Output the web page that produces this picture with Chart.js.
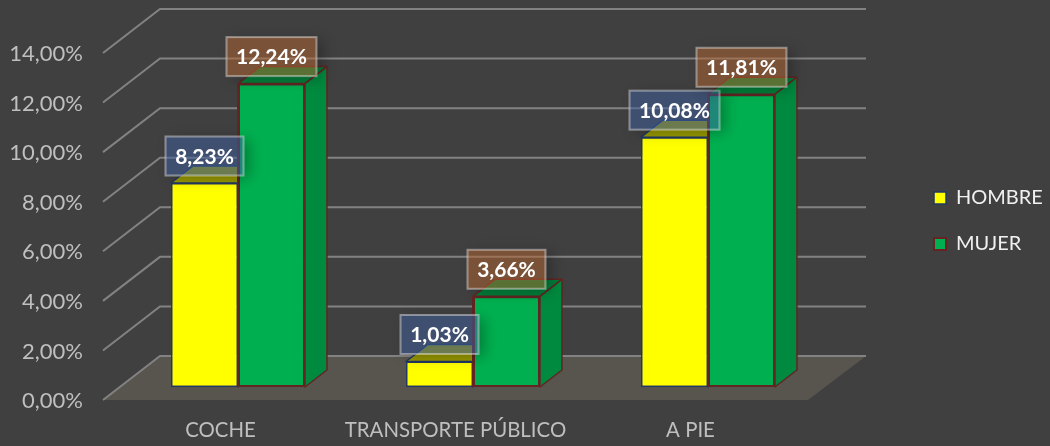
<!DOCTYPE html>
<html>
<head>
<meta charset="utf-8">
<style>
html,body{margin:0;padding:0;background:#404040;}
canvas{display:block;}
</style>
<script src="https://cdn.jsdelivr.net/npm/chart.js@4"></script>
</head>
<body>
<canvas id="c" width="1050" height="446"></canvas>
<script>
const categories = ['COCHE', 'TRANSPORTE PÚBLICO', 'A PIE'];
const hombre = [8.23, 1.03, 10.08];
const mujer = [12.24, 3.66, 11.81];
const FONT = 'Lato, Carlito, Calibri, sans-serif';
const fmt = v => v.toFixed(2).replace('.', ',') + '%';

const wallD = {x: 57, y: -44};
const barShift = {x: 17.5, y: -13};
const barD = {x: 22, y: -17};

const faceStyles = [
  {top: '#999900', side: '#999900', line: '#1f3864', box: 'rgba(62,94,158,0.5)'},
  {top: '#007f3a', side: '#008a3f', line: '#632523', box: 'rgba(180,100,48,0.5)'}
];

function poly(ctx, pts, fill, stroke, lw) {
  ctx.beginPath();
  pts.forEach((p, i) => i ? ctx.lineTo(p[0], p[1]) : ctx.moveTo(p[0], p[1]));
  ctx.closePath();
  if (fill) { ctx.fillStyle = fill; ctx.fill(); }
  if (stroke) { ctx.strokeStyle = stroke; ctx.lineWidth = lw; ctx.lineJoin = 'round'; ctx.stroke(); }
}

const threeD = {
  id: 'threeD',
  beforeUpdate(chart) {
    const lg = chart.legend;
    if (lg && !lg._wrapped) {
      const f = lg.fit;
      lg.fit = function () { f.call(this); this.width = 242; };
      lg._wrapped = true;
    }
  },
  afterLayout(chart) {
    chart.legend.left = 908;
    chart.legend.top = -4;
  },
  beforeDatasetsDraw(chart) {
    const {ctx, chartArea: a, scales: {y}} = chart;
    const y0 = y.getPixelForValue(0);
    poly(ctx, [[a.left, y0], [a.left + wallD.x, y0 + wallD.y], [a.right + wallD.x + 1, y0 + wallD.y], [a.right, y0]], '#58554e');
    ctx.save();
    ctx.strokeStyle = '#828282';
    ctx.lineWidth = 2;
    y.ticks.forEach(t => {
      const py = y.getPixelForValue(t.value);
      ctx.beginPath();
      ctx.moveTo(a.left, py);
      ctx.lineTo(a.left + wallD.x, py + wallD.y);
      ctx.lineTo(a.right + wallD.x + 1, py + wallD.y);
      ctx.stroke();
    });
    ctx.restore();
    ctx.save();
    ctx.translate(barShift.x, barShift.y);
    chart.data.datasets.forEach((ds, i) => {
      const st = faceStyles[i];
      chart.getDatasetMeta(i).data.forEach(el => {
        const l = el.x - el.width / 2, r = el.x + el.width / 2, t = el.y, b = el.base;
        poly(ctx, [[l, t], [l + barD.x, t + barD.y], [r + barD.x, t + barD.y], [r, t]], st.top, st.line, 1.5);
        poly(ctx, [[r, t], [r + barD.x, t + barD.y], [r + barD.x, b + barD.y], [r, b]], st.side, st.line, 1.5);
      });
    });
  },
  afterDatasetsDraw(chart) {
    const {ctx} = chart;
    // seam between the two bars keeps the second series' outline
    chart.getDatasetMeta(1).data.forEach(el => {
      const l = el.x - el.width / 2;
      ctx.strokeStyle = faceStyles[1].line;
      ctx.lineWidth = 2;
      ctx.beginPath();
      ctx.moveTo(l, el.y);
      ctx.lineTo(l, el.base);
      ctx.stroke();
    });
    ctx.restore();
    ctx.save();
    chart.data.datasets.forEach((ds, i) => {
      const st = faceStyles[i];
      chart.getDatasetMeta(i).data.forEach((el, j) => {
        const cx = el.x + barShift.x, cy = el.y + barShift.y - 27;
        const txt = fmt(ds.data[j]);
        const w = txt.length === 6 ? 90 : 78, h = 39;
        // soft shadow outside the box only, so the box itself stays see-through
        ctx.save();
        ctx.beginPath();
        ctx.rect(0, 0, chart.width, chart.height);
        ctx.rect(cx - w / 2, cy - h / 2, w, h);
        ctx.clip('evenodd');
        ctx.shadowColor = 'rgba(0,0,0,0.28)';
        ctx.shadowBlur = 14;
        ctx.shadowOffsetX = 6;
        ctx.shadowOffsetY = 3;
        ctx.fillStyle = '#000';
        ctx.fillRect(cx - w / 2, cy - h / 2, w, h);
        ctx.restore();
        ctx.fillStyle = st.box;
        ctx.fillRect(cx - w / 2, cy - h / 2, w, h);
        ctx.strokeStyle = 'rgba(255,255,255,0.42)';
        ctx.lineWidth = 2;
        ctx.strokeRect(cx - w / 2, cy - h / 2, w, h);
        ctx.fillStyle = '#ffffff';
        ctx.font = 'bold 21px ' + FONT;
        ctx.textAlign = 'center';
        ctx.textBaseline = 'middle';
        ctx.fillText(txt, cx, cy + 1);
      });
    });
    ctx.restore();
  }
};

new Chart(document.getElementById('c'), {
  type: 'bar',
  data: {
    labels: categories,
    datasets: [
      {label: 'HOMBRE', data: hombre, backgroundColor: '#ffff00', borderColor: '#1f3864', borderWidth: 1.5, borderSkipped: false, categoryPercentage: 0.57, barPercentage: 1},
      {label: 'MUJER', data: mujer, backgroundColor: '#00b050', borderColor: '#632523', borderWidth: 2, borderSkipped: false, categoryPercentage: 0.57, barPercentage: 1}
    ]
  },
  options: {
    responsive: false,
    animation: false,
    layout: {padding: {top: 53, bottom: 0, left: 0, right: 0}},
    plugins: {
      tooltip: {enabled: false},
      title: {display: false},
      legend: {
        display: true,
        position: 'right',
        align: 'center',
        labels: {
          color: '#f0f0f0',
          font: {family: FONT, size: 20},
          boxWidth: 12,
          boxHeight: 12,
          padding: 26
        }
      }
    },
    scales: {
      x: {
        grid: {display: false, drawTicks: false},
        border: {display: false},
        afterFit(s) { s.height = 46; },
        ticks: {color: '#bfbfbf', font: {family: FONT, size: 20.4}, padding: 18, maxRotation: 0}
      },
      y: {
        min: 0,
        max: 14,
        afterFit(s) { s.width = 103; },
        grid: {display: false, drawTicks: false},
        border: {display: false},
        ticks: {stepSize: 2, color: '#bfbfbf', font: {family: FONT, size: 22}, padding: 20, labelOffset: 1, callback: v => fmt(v)}
      }
    }
  },
  plugins: [threeD]
});
</script>
</body>
</html>
